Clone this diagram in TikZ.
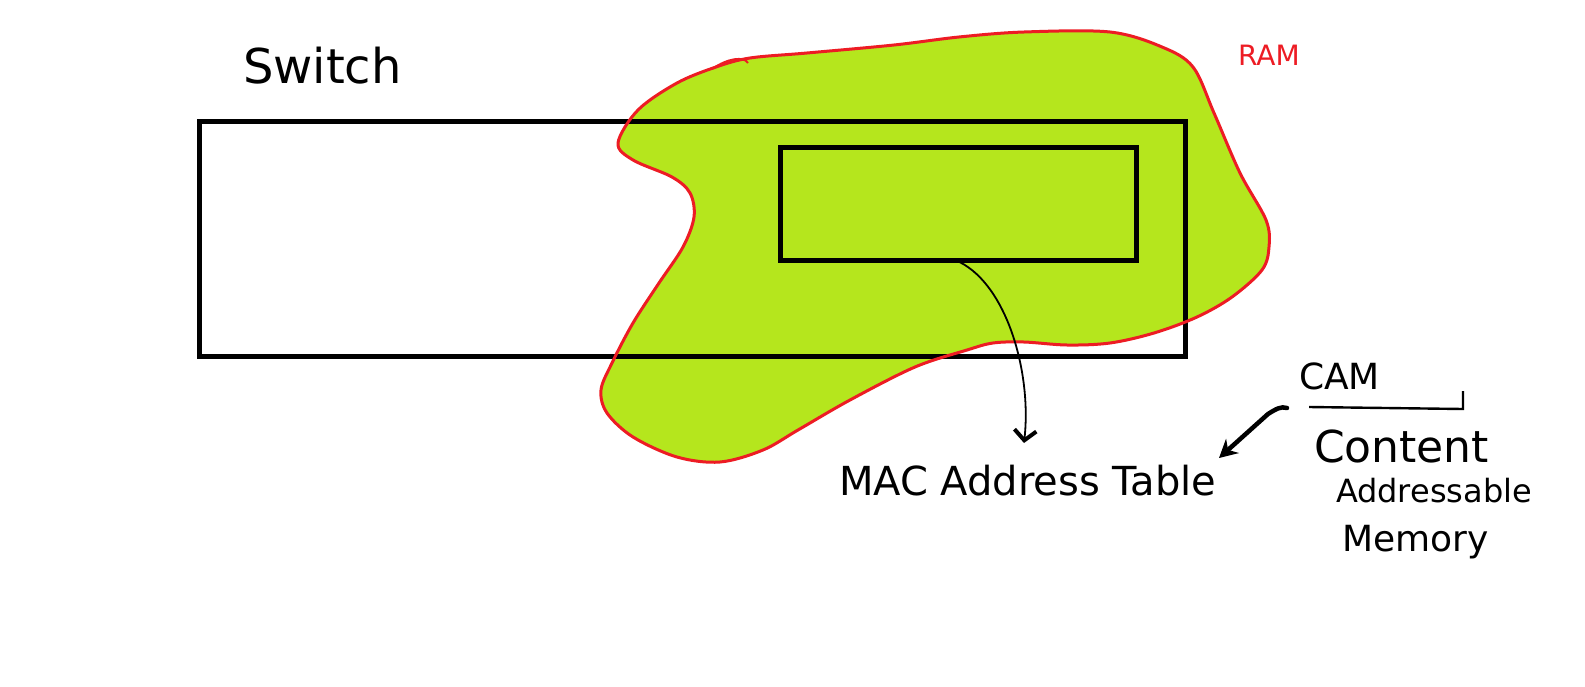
\documentclass[tikz,border=0pt]{standalone}
\usepackage{fontspec}
\setmainfont{DejaVu Sans}
\usetikzlibrary{arrows.meta}
\definecolor{ramgreen}{HTML}{B5E61D}
\definecolor{ramred}{HTML}{ED1C24}
\begin{document}
\begin{tikzpicture}[x=1pt,y=-1pt,
  box/.style={draw=black, line width=5pt, inner sep=0pt, outer sep=0pt},
  lab/.style={anchor=base west, inner sep=0pt, outer sep=0pt},
  thinarrow/.style={draw=black, line width=1.8pt, -{Straight Barb[length=10pt,width=22pt,line width=4pt]}},
  thickarrow/.style={draw=black, line width=4.5pt, line cap=round, -{Stealth[length=18pt,width=19pt]}},
  blobline/.style={draw=ramred, line width=3pt}
]
\useasboundingbox (0,0) rectangle (1585,686);
\fill[white] (0,0) rectangle (1585,686);

% RAM blob fill
\fill[ramgreen] plot[smooth cycle, tension=0.55] coordinates {
 (618,143) (638,110) (677,83) (716,67) (750,58) (807,53) (894,45) (959,37)
 (1024,32) (1110,32) (1162,47) (1193,67) (1214,113) (1240,173) (1266,220)
 (1269,247) (1262,270) (1232,297) (1197,317) (1154,333) (1110,343) (1067,345)
 (1024,342) (993,343) (967,350) (915,367) (850,400) (798,430) (763,450)
 (720,462) (677,457) (633,437) (607,413) (601,390) (612,363) (633,323)
 (659,283) (683,247) (694,217) (690,193) (672,177) (633,160)};

% switch and MAC table boxes
\node[box, minimum width=986pt, minimum height=235pt] (switchbox) at (692,238.5) {};
\node[box, minimum width=356pt, minimum height=113pt] (mactable) at (958,203.5) {};

% RAM blob outline
\draw[blobline] plot[smooth cycle, tension=0.55] coordinates {
 (618,143) (638,110) (677,83) (716,67) (750,58) (807,53) (894,45) (959,37)
 (1024,32) (1110,32) (1162,47) (1193,67) (1214,113) (1240,173) (1266,220)
 (1269,247) (1262,270) (1232,297) (1197,317) (1154,333) (1110,343) (1067,345)
 (1024,342) (993,343) (967,350) (915,367) (850,400) (798,430) (763,450)
 (720,462) (677,457) (633,437) (607,413) (601,390) (612,363) (633,323)
 (659,283) (683,247) (694,217) (690,193) (672,177) (633,160)};
\draw[blobline, line width=2pt] (712,69) .. controls (728,58) and (744,56) .. (748,63);

% labels
\node[lab, font=\fontsize{48}{52}\selectfont] (switchlabel) at (243,83) {Switch};
\node[lab, font=\fontsize{28}{32}\selectfont, text=ramred] (ramlabel) at (1238,65) {RAM};
\node[lab, font=\fontsize{40}{44}\selectfont] (maclabel) at (839,495) {MAC Address Table};
\node[lab, font=\fontsize{36}{40}\selectfont] (camlabel) at (1299,389) {CAM};
\node[lab, font=\fontsize{44}{48}\selectfont] (content) at (1314,462) {Content};
\node[lab, font=\fontsize{32}{36}\selectfont] (addressable) at (1336,502) {Addressable};
\node[lab, font=\fontsize{36}{40}\selectfont] (memory) at (1342,551) {Memory};

% underline bracket under CAM
\coordinate (ulstart) at (1309,407);
\coordinate (ulend) at (1463,409);
\coordinate (ultop) at (1463,391);
\draw[line width=2.4pt] (ulstart) -- (ulend) -- (ultop);

% arrow from MAC table box to its label
\coordinate (macarrowend) at (1024,443);
\draw[thinarrow] ([xshift=-3pt]mactable.south) .. controls (1005,280) and (1032,370) .. (macarrowend);

% arrow from CAM to the label
\coordinate (camtail) at (1287,408);
\coordinate (camhead) at (1219,458);
\draw[thickarrow] (camtail) .. controls (1281,406) and (1276,409) .. (1268,414) -- (camhead);
\end{tikzpicture}
\end{document}
